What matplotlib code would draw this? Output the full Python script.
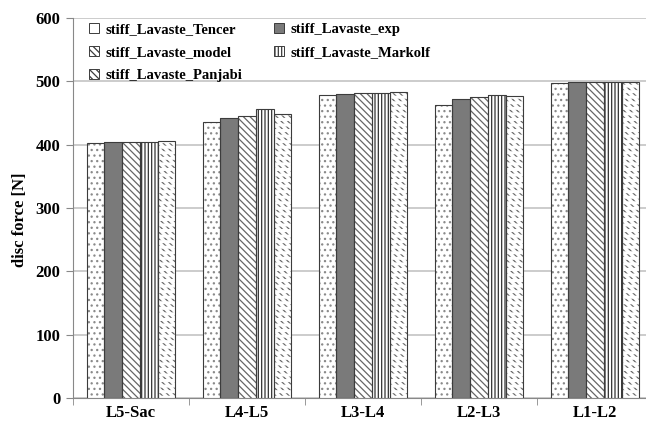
import matplotlib.pyplot as plt
import numpy as np

plt.rcParams['font.family'] = ['Liberation Serif', 'DejaVu Serif']
plt.rcParams['font.weight'] = 'bold'
plt.rcParams['hatch.linewidth'] = 0.9

segments = ['L5-Sac', 'L4-L5', 'L3-L4', 'L2-L3', 'L1-L2']
series_names = ['stiff_Lavaste_Tencer', 'stiff_Lavaste_exp', 'stiff_Lavaste_model',
                'stiff_Lavaste_Markolf', 'stiff_Lavaste_Panjabi']
tencer = [402.5, 435, 478.5, 462.5, 498]
exp = [403.5, 442, 480.5, 471.5, 499]
model = [403.5, 445, 481, 475, 499]
markolf = [404, 456, 482, 478.5, 499]
panjabi = [406, 449, 483.5, 477.5, 499]

faces = ['white', '#7a7a7a', 'white', 'white', 'white']
hatches = ['...', '', '\\\\\\\\\\', '|||||', '\\\\\\\\\\']
hatch_cols = ['#8a8a8a', '#7a7a7a', '#666666', '#333333', '#6a6a6a']

fig = plt.figure(figsize=(6.46, 4.23), dpi=100)
ax = fig.add_axes([73/646, 25/423, 580/646, 380/423])

x = np.arange(len(segments))
w = 0.153
handles = []
for i, vals in enumerate([tencer, exp, model, markolf, panjabi]):
    pos = x + (i - 2) * w
    # fill + hatch first, outline on top so the hatch can have its own colour
    ax.bar(pos, vals, w, color=faces[i], edgecolor=hatch_cols[i], linewidth=0,
           hatch=hatches[i], zorder=3)
    if i == 4:
        # white bands break the diagonals into short strokes
        bands = ax.bar(pos, vals, w, color='none', edgecolor='white', linewidth=0,
                       hatch='---', zorder=4)
        for p in bands:
            if hasattr(p, 'set_hatch_linewidth'):
                p.set_hatch_linewidth(2.2)
    ax.bar(pos, vals, w, fill=False, edgecolor='#3c3c3c', linewidth=0.8, zorder=5)
    h = plt.Rectangle((0, 0), 1, 1, facecolor=faces[i], edgecolor='#3c3c3c',
                      linewidth=0.7, hatch=hatches[i] if i else '')
    handles.append(h)

ax.set_xlim(-0.5, 4.5)
ax.set_ylim(0, 600)
ax.set_yticks(range(0, 601, 100))
ax.set_xticks(x)
ax.set_xticklabels(segments, fontsize=12, fontweight='bold')
plt.setp(ax.get_yticklabels(), fontsize=12, fontweight='bold')
ax.set_xticks(np.arange(-0.5, 5, 1), minor=True)
ax.tick_params(axis='x', which='major', length=0, pad=5)
ax.tick_params(axis='x', which='minor', length=5, color='#888888')
ax.tick_params(axis='y', length=5, color='#888888', pad=4)
ax.yaxis.grid(True, color='#c4c4c4', linewidth=1.2, zorder=0)
ax.set_axisbelow(True)
for s in ['top', 'right']:
    ax.spines[s].set_visible(False)
for s in ['left', 'bottom']:
    ax.spines[s].set_color('#888888')
ax.set_ylabel('disc force [N]', fontsize=12, fontweight='bold')
ax.yaxis.set_label_coords(-0.077, 0.468)

# legend reads row by row: Tencer, exp / model, Markolf / Panjabi
order = [0, 2, 4, 1, 3]
ax.legend([handles[k] for k in order], [series_names[k] for k in order],
          loc='upper left', bbox_to_anchor=(0.005, 1.022), ncol=2, frameon=False,
          prop={'size': 10.5, 'weight': 'bold'}, handlelength=0.7, handleheight=0.7,
          handletextpad=0.4, columnspacing=2.2, labelspacing=0.68)

fig.savefig('out.png', dpi=100)
